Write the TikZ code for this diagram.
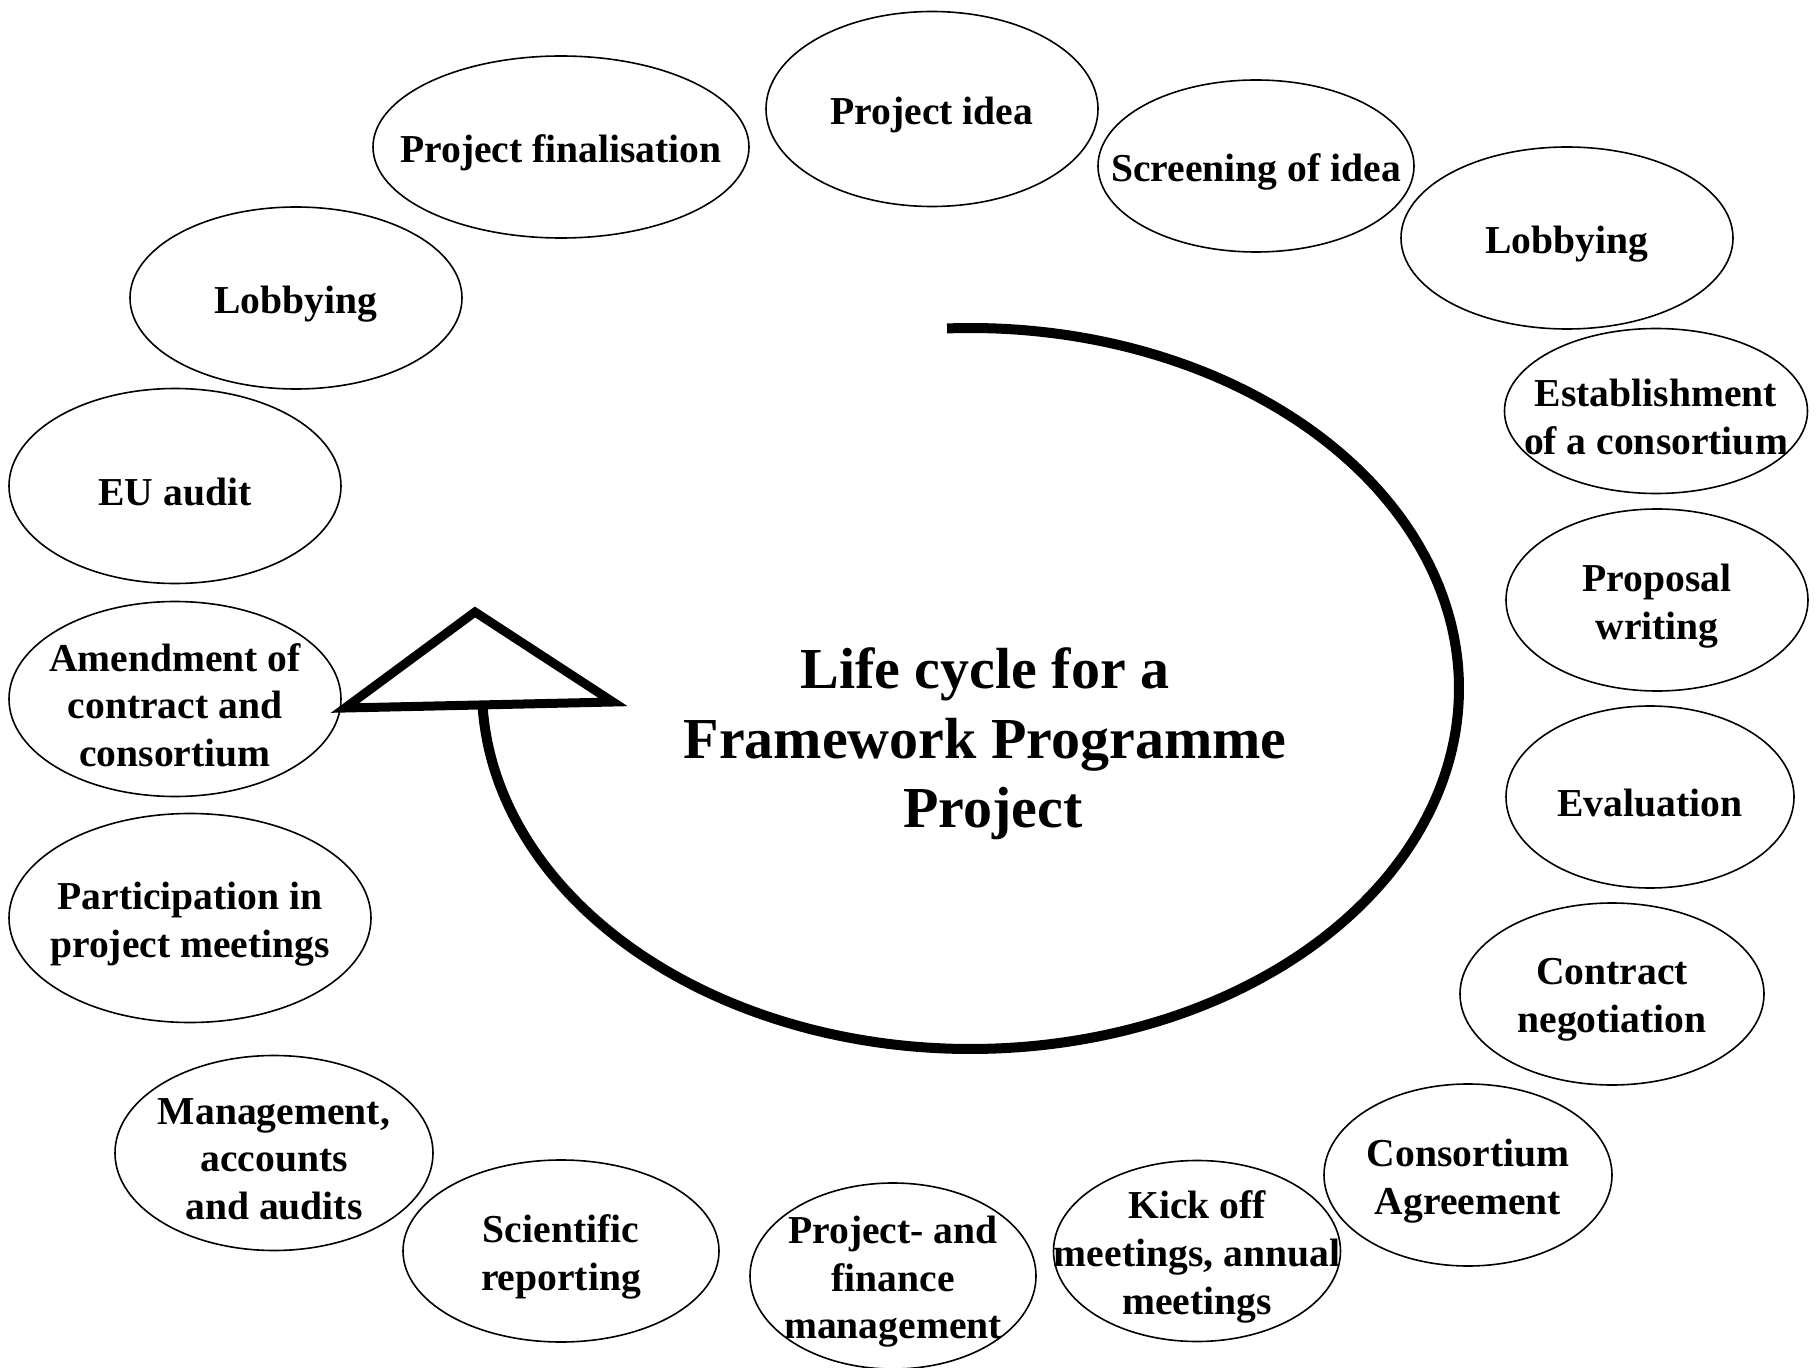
\documentclass[tikz,border=0pt]{standalone}
\usepackage{fontspec}
\setmainfont{Liberation Serif}
\usetikzlibrary{shapes.geometric}
\tikzset{
  bub/.style={ellipse, draw, line width=0.8bp, inner sep=0pt},
  btxt/.style={inner sep=0pt, align=center, yshift=-3bp, font=\fontsize{19.8bp}{23.8bp}\selectfont\bfseries},
  ctxt/.style={inner sep=0pt, align=center, yshift=-2.5bp, font=\fontsize{29bp}{34.8bp}\selectfont\bfseries},
  bigarc/.style={line width=5bp},
  tri/.style={line width=4.5bp, fill=white, line join=miter}
}
\newcommand\bubble[6]{%
  \node[bub, minimum width=#4*0.5bp, minimum height=#5*0.5bp] (#1) at (#2,#3) {};
  \node[btxt] (#1t) at (#1.center) {#6};}
\begin{document}
\begin{tikzpicture}[x=0.5bp,y=-0.5bp]
\useasboundingbox (0,0) rectangle (1820,1368);
% big arc
\draw[bigarc] plot[domain=267.25:538.2, samples=240, smooth] ({970.5+488.5*cos(\x)}, {688.5+360.5*sin(\x)});
\coordinate (tl) at (345,708);
\coordinate (tt) at (475,612);
\coordinate (tr) at (613,702);
\draw[tri] (tl) -- (tt) -- (tr) -- cycle;
% center text
\node[ctxt] (title) at (985,739) {Life cycle for a\\Framework Programme\\\hspace*{8bp}Project};
% bubbles
\bubble{e1}{932}{109}{332}{195}{Project idea}
\bubble{e2}{1256}{166}{316}{172}{Screening of idea}
\bubble{e3}{1567}{238}{332}{182}{Lobbying}
\bubble{e4}{1656}{411}{303}{165}{Establishment\\of a consortium}
\bubble{e5}{1657}{600}{302}{182}{Proposal\\writing}
\bubble{e6}{1650}{797}{288}{182}{Evaluation}
\bubble{e7}{1612}{994}{304}{182}{Contract\\negotiation}
\bubble{e8}{1468}{1175}{288}{182}{Consortium\\Agreement}
\bubble{e9}{1197}{1251}{287}{181}{Kick off\\meetings, annual\\meetings}
\bubble{e10}{893}{1276}{286}{186}{Project- and\\finance\\management}
\bubble{e11}{561}{1251}{316}{182}{Scientific\\reporting}
\bubble{e12}{274}{1153}{318}{195}{Management,\\accounts\\and audits}
\bubble{e13}{190}{918}{362}{209}{Participation in\\project meetings}
\bubble{e14}{175}{699}{332}{195}{Amendment of\\contract and\\consortium}
\bubble{e15}{175}{486}{332}{195}{EU audit}
\bubble{e16}{296}{298}{332}{182}{Lobbying}
\bubble{e17}{561}{147}{376}{182}{Project finalisation}
\end{tikzpicture}
\end{document}
